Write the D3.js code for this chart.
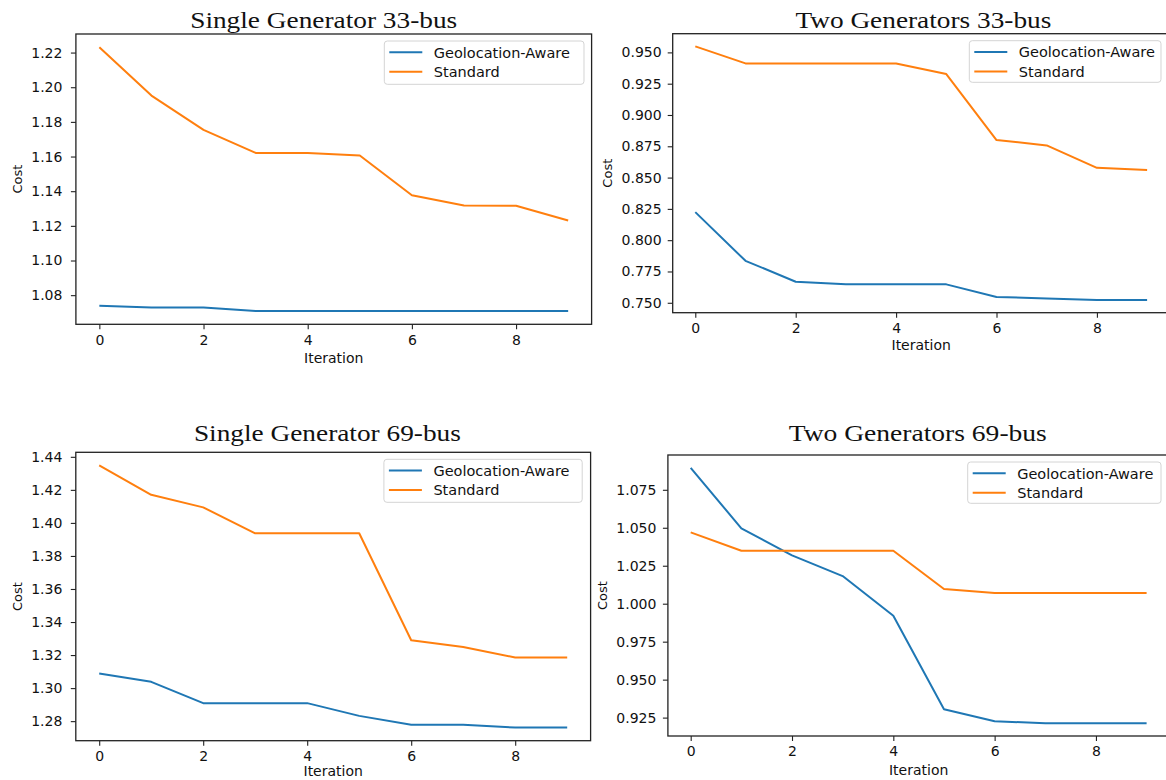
<!DOCTYPE html>
<html>
<head>
<meta charset="utf-8">
<script src="https://cdn.jsdelivr.net/npm/d3@7"></script>
<style>
  html, body { margin: 0; padding: 0; background: #fff; }
  svg { display: block; overflow: hidden; }
</style>
</head>
<body>
<svg id="chart"></svg>
<script>
// iteration index on the x axis
const iterations = [0, 1, 2, 3, 4, 5, 6, 7, 8, 9];

// Single Generator 33-bus
const geoSingle33 = [1.0739, 1.0729, 1.0729, 1.0708, 1.0708, 1.0708, 1.0708, 1.0708, 1.0708, 1.0708];
const stdSingle33 = [1.2231, 1.1952, 1.1754, 1.1621, 1.1620, 1.1606, 1.1377, 1.1317, 1.1316, 1.1231];

// Two Generators 33-bus
const geoTwo33 = [0.8224, 0.7835, 0.7668, 0.7647, 0.7647, 0.7647, 0.7546, 0.7535, 0.7522, 0.7522];
const stdTwo33 = [0.9548, 0.9412, 0.9412, 0.9412, 0.9412, 0.9327, 0.8800, 0.8757, 0.8578, 0.8560];

// Single Generator 69-bus
const geoSingle69 = [1.3088, 1.3038, 1.2909, 1.2909, 1.2909, 1.2832, 1.2778, 1.2778, 1.2761, 1.2761];
const stdSingle69 = [1.4348, 1.4170, 1.4094, 1.3937, 1.3937, 1.3937, 1.3290, 1.3249, 1.3185, 1.3185];

// Two Generators 69-bus
const geoTwo69 = [1.0895, 1.0496, 1.0318, 1.0182, 0.9921, 0.9305, 0.9226, 0.9213, 0.9213, 0.9213];
const stdTwo69 = [1.0470, 1.0349, 1.0349, 1.0349, 1.0349, 1.0097, 1.0070, 1.0070, 1.0070, 1.0070];

const xTicks = [0, 2, 4, 6, 8];
const yTicksSingle33 = [1.08, 1.10, 1.12, 1.14, 1.16, 1.18, 1.20, 1.22];
const yTicksTwo33 = [0.750, 0.775, 0.800, 0.825, 0.850, 0.875, 0.900, 0.925, 0.950];
const yTicksSingle69 = [1.28, 1.30, 1.32, 1.34, 1.36, 1.38, 1.40, 1.42, 1.44];
const yTicksTwo69 = [0.925, 0.950, 0.975, 1.000, 1.025, 1.050, 1.075];

const seriesNames = ['Geolocation-Aware', 'Standard'];
const seriesColors = ['#1f77b4', '#ff7f0e'];

const width = 1166;
const height = 780;

const panels = [
  {
    title: 'Single Generator 33-bus', geo: geoSingle33, std: stdSingle33,
    yTicks: yTicksSingle33, fmt: '.2f',
    frame: { left: 75.9, right: 591.6, top: 34, bottom: 324.3 },
    titleX: 323.7, titleY: 28.3, titleLen: 267,
    legend: { x: 384.3, y: 41, w: 199.7, h: 43.3 },
    costX: 22.4, yPad: 8.5, labelY: 363.3
  },
  {
    title: 'Two Generators 33-bus', geo: geoTwo33, std: stdTwo33,
    yTicks: yTicksTwo33, fmt: '.3f',
    frame: { left: 672.7, right: 1169.7, top: 33.7, bottom: 312.7 },
    titleX: 923.4, titleY: 28.3, titleLen: 256,
    legend: { x: 969.3, y: 40.7, w: 191.7, h: 41.6 },
    costX: 612, yPad: 6, labelY: 350
  },
  {
    title: 'Single Generator 69-bus', geo: geoSingle69, std: stdSingle69,
    yTicks: yTicksSingle69, fmt: '.2f',
    frame: { left: 75.8, right: 590.6, top: 452.3, bottom: 740.7 },
    titleX: 327.4, titleY: 440.5, titleLen: 267,
    legend: { x: 383.9, y: 459.3, w: 198.3, h: 43 },
    costX: 22.4, yPad: 8.5, labelY: 776
  },
  {
    title: 'Two Generators 69-bus', geo: geoTwo69, std: stdTwo69,
    yTicks: yTicksTwo69, fmt: '.3f',
    frame: { left: 667.9, right: 1169.4, top: 455, bottom: 736 },
    titleX: 917.8, titleY: 440.5, titleLen: 258,
    legend: { x: 967.7, y: 462, w: 193.3, h: 41.3 },
    costX: 607, yPad: 6.5, labelY: 775
  }
];

const svg = d3.select('#chart').attr('width', width).attr('height', height);

const drawPanel = (p) => {
  const g = svg.append('g');
  const f = p.frame;

  // matplotlib style 5% margins around the data
  const xExt = d3.extent(iterations);
  const xPad = (xExt[1] - xExt[0]) * 0.05;
  const xScale = d3.scaleLinear()
    .domain([xExt[0] - xPad, xExt[1] + xPad])
    .range([f.left, f.right]);

  const allVals = p.geo.concat(p.std);
  const yExt = d3.extent(allVals);
  const yPad = (yExt[1] - yExt[0]) * 0.05;
  const yScale = d3.scaleLinear()
    .domain([yExt[0] - yPad, yExt[1] + yPad])
    .range([f.bottom, f.top]);

  const xAxis = d3.axisBottom(xScale)
    .tickValues(xTicks)
    .tickFormat(d3.format('d'))
    .tickSize(5)
    .tickSizeOuter(0)
    .tickPadding(5.5);

  const yAxis = d3.axisLeft(yScale)
    .tickValues(p.yTicks)
    .tickFormat(d3.format(p.fmt))
    .tickSize(5)
    .tickSizeOuter(0)
    .tickPadding(p.yPad);

  const gx = g.append('g')
    .attr('transform', 'translate(0,' + f.bottom + ')')
    .call(xAxis);
  const gy = g.append('g')
    .attr('transform', 'translate(' + f.left + ',0)')
    .call(yAxis);

  [gx, gy].forEach((ax) => {
    ax.select('.domain').remove();
    ax.selectAll('line').attr('stroke', '#222').attr('stroke-width', 1.1);
    ax.selectAll('text')
      .attr('fill', '#111')
      .style('font-family', "'DejaVu Sans', sans-serif")
      .style('font-size', '14px');
  });

  const line = d3.line()
    .x((d, i) => xScale(iterations[i]))
    .y((d) => yScale(d));

  [p.geo, p.std].forEach((vals, k) => {
    g.append('path')
      .datum(vals)
      .attr('d', line)
      .attr('fill', 'none')
      .attr('stroke', seriesColors[k])
      .attr('stroke-width', 2)
      .attr('stroke-linejoin', 'round');
  });

  // axes frame
  g.append('rect')
    .attr('x', f.left)
    .attr('y', f.top)
    .attr('width', f.right - f.left)
    .attr('height', f.bottom - f.top)
    .attr('fill', 'none')
    .attr('stroke', '#222')
    .attr('stroke-width', 1.3);

  // legend
  const lg = g.append('g').attr('transform', 'translate(' + p.legend.x + ',' + p.legend.y + ')');
  lg.append('rect')
    .attr('width', p.legend.w)
    .attr('height', p.legend.h)
    .attr('rx', 3)
    .attr('fill', '#fff')
    .attr('fill-opacity', 0.8)
    .attr('stroke', '#d4d4d4')
    .attr('stroke-width', 1);

  seriesNames.forEach((name, k) => {
    const ry = 11.3 + k * 19.5;
    lg.append('line')
      .attr('x1', 5)
      .attr('x2', 38)
      .attr('y1', ry)
      .attr('y2', ry)
      .attr('stroke', seriesColors[k])
      .attr('stroke-width', 2);
    lg.append('text')
      .attr('x', 49.5)
      .attr('y', ry)
      .attr('dy', '0.36em')
      .attr('fill', '#111')
      .style('font-family', "'DejaVu Sans', sans-serif")
      .style('font-size', '14.5px')
      .text(name);
  });

  // title
  g.append('text')
    .attr('x', p.titleX)
    .attr('y', p.titleY)
    .attr('text-anchor', 'middle')
    .attr('textLength', p.titleLen)
    .attr('lengthAdjust', 'spacingAndGlyphs')
    .attr('fill', '#111')
    .style('font-family', "'Liberation Serif', 'Times New Roman', serif")
    .style('font-size', '24px')
    .text(p.title);

  // axis labels
  g.append('text')
    .attr('x', (f.left + f.right) / 2)
    .attr('y', p.labelY)
    .attr('text-anchor', 'middle')
    .attr('fill', '#111')
    .style('font-family', "'DejaVu Sans', sans-serif")
    .style('font-size', '14px')
    .text('Iteration');

  g.append('text')
    .attr('transform', 'translate(' + p.costX + ',' + (f.top + f.bottom) / 2 + ') rotate(-90)')
    .attr('text-anchor', 'middle')
    .attr('fill', '#111')
    .style('font-family', "'DejaVu Sans', sans-serif")
    .style('font-size', '13px')
    .text('Cost');
};

panels.forEach(drawPanel);
</script>
</body>
</html>
